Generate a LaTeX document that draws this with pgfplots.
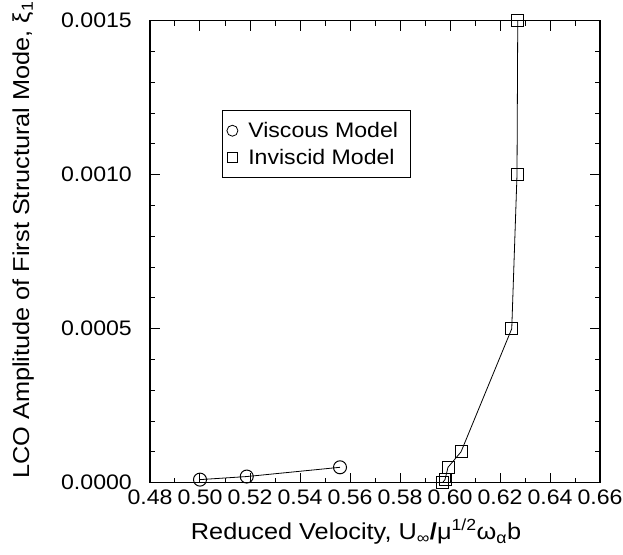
\documentclass[border=0pt]{standalone}
\usepackage{fontspec}
\setmainfont{Liberation Sans}[FakeStretch=1.1]
\usepackage{pgfplots}
\pgfplotsset{compat=1.18}

\begin{document}
\begin{tikzpicture}
\begin{axis}[
  scale only axis,
  width=450pt, height=462pt,
  xmin=0.48, xmax=0.66, ymin=0, ymax=0.0015,
  xtick={0.48,0.50,...,0.66},
  ytick={0,0.0005,0.0010,0.0015},
  minor x tick num=1,
  minor y tick num=4,
  tick align=inside,
  major tick length=10pt, minor tick length=5pt,
  axis line style={line width=1.2pt},
  every tick/.style={black, line width=1pt},
  scaled y ticks=false,
  scaled x ticks=false,
  x tick label style={font=\fontsize{21}{24}\selectfont, inner sep=0pt, anchor=north, yshift=-7pt,
    /pgf/number format/assume math mode=true,
    /pgf/number format/fixed, /pgf/number format/fixed zerofill, /pgf/number format/precision=2},
  y tick label style={font=\fontsize{21}{24}\selectfont, inner sep=0pt, anchor=east, xshift=-18pt,
    /pgf/number format/assume math mode=true,
    /pgf/number format/fixed, /pgf/number format/fixed zerofill, /pgf/number format/precision=4},
  xlabel={Reduced Velocity, U\textsubscript{∞}\textbf{/}μ\textsuperscript{1/2}ω\textsubscript{α}b},
  ylabel={LCO Amplitude of First Structural Mode, ξ\textsubscript{1}},
  xlabel style={font=\fontsize{23}{26}\selectfont, inner sep=0pt, anchor=base,
    at={(axis description cs:0.458,-0.124)}},
  ylabel style={font=\fontsize{23}{26}\selectfont, inner sep=0pt, anchor=center,
    at={(axis description cs:-0.282,0.525)}},
  legend style={at={(0.16,0.807)}, anchor=north west, draw=black, line width=1pt,
    font=\fontsize{21}{24}\selectfont, row sep=6pt, column sep=8pt,
    inner xsep=4pt, inner ysep=10pt, nodes={inner sep=2pt}},
  legend cell align=left,
]
\addplot[black, line width=0.8pt, mark=o, mark size=6.5pt,
  mark options={fill=white, line width=1pt},
  legend image code/.code={\draw[black, line width=0.8pt, fill=white] (5.5pt,0pt) circle (5.5pt);}]
  coordinates {(0.500,0.00001) (0.5187,0.00002) (0.556,0.00005)};
\addlegendentry{Viscous Model\hspace*{6pt}}
\addplot[black, line width=0.8pt, mark=square, mark size=6pt,
  mark options={fill=white, line width=1pt},
  legend image code/.code={\draw[black, line width=0.8pt, fill=white] (0.5pt,-5pt) rectangle (10.5pt,5pt);}]
  coordinates {(0.597,0.0) (0.598,0.00001) (0.5992,0.00005) (0.6044,0.0001)
    (0.6247,0.0005) (0.6268,0.0010) (0.6271,0.0015)};
\addlegendentry{Inviscid Model}
\end{axis}
\pgfresetboundingbox
\path (-150pt,-71.3pt) rectangle (473pt,482.7pt);
\end{tikzpicture}
\end{document}
